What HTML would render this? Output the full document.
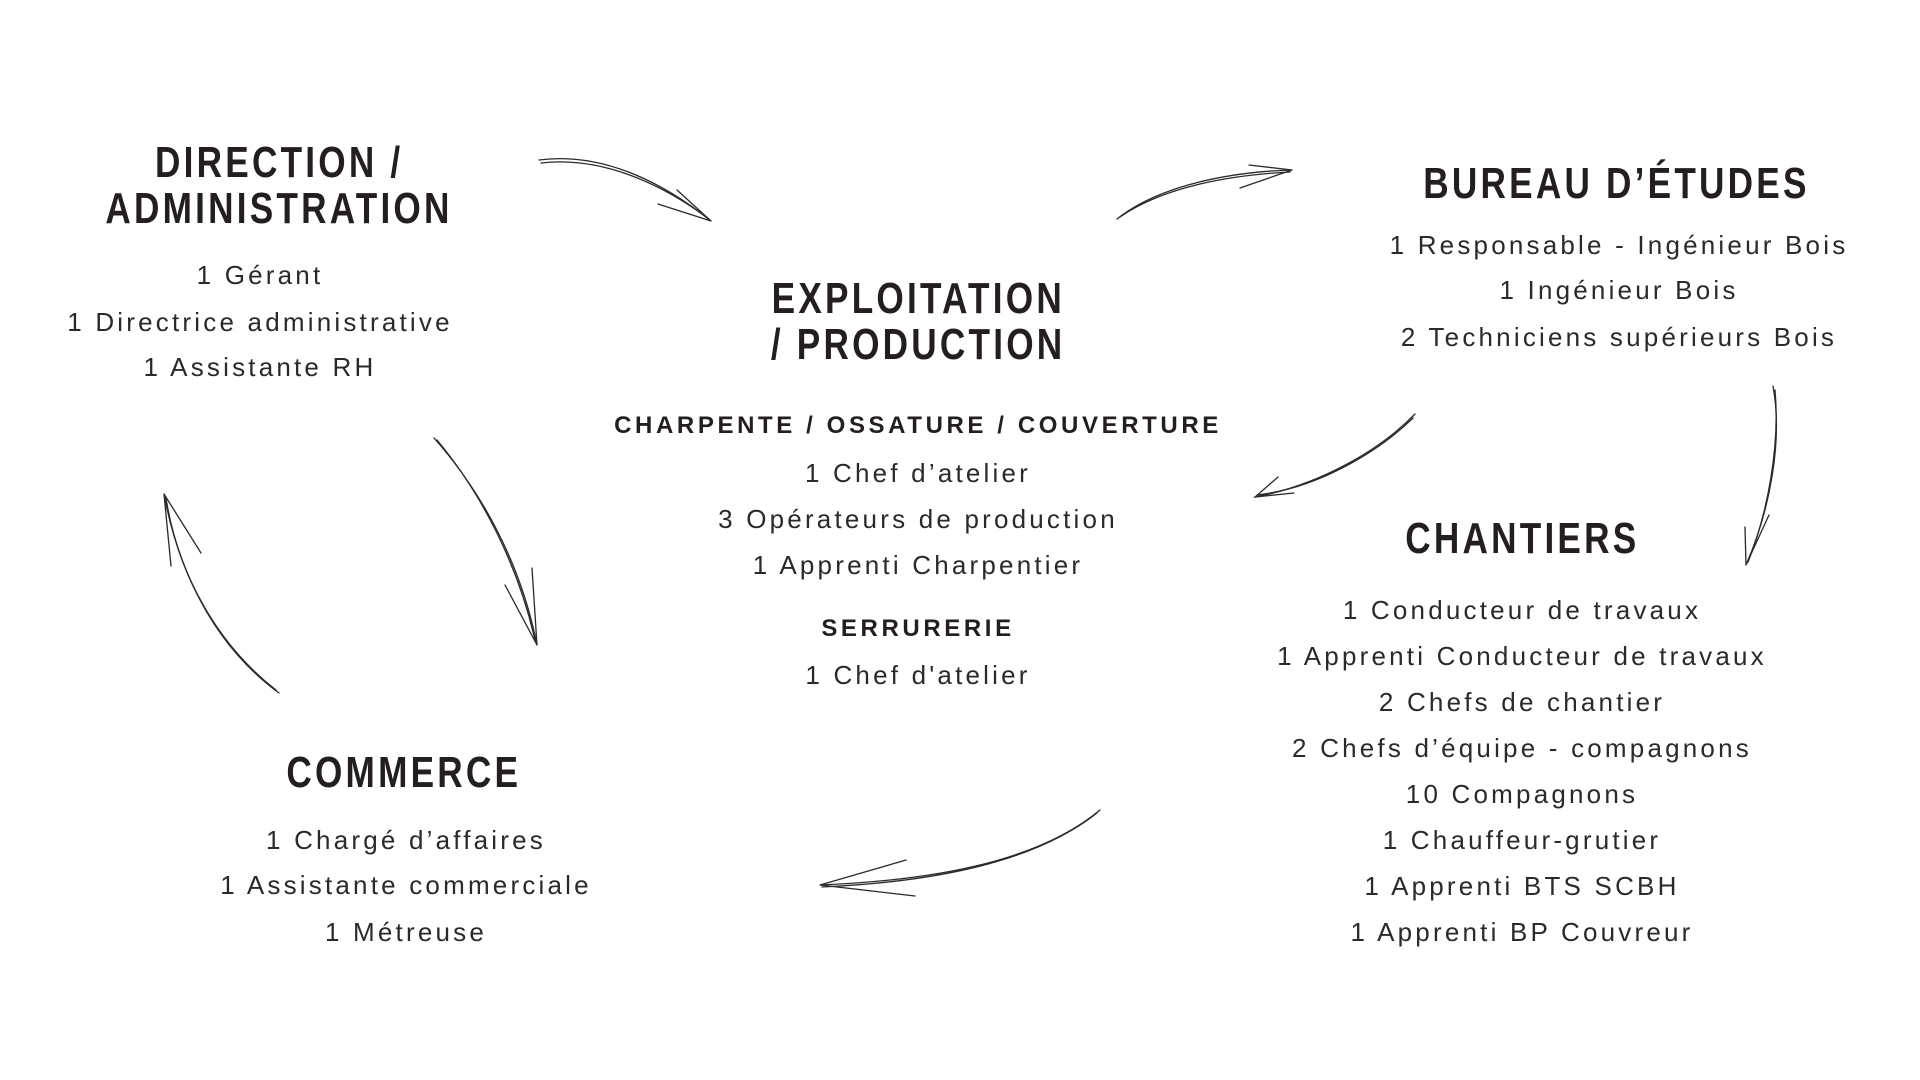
<!DOCTYPE html>
<html><head><meta charset="utf-8">
<style>
html,body{margin:0;padding:0;background:#fff;}
body{width:1920px;height:1080px;position:relative;overflow:hidden;font-family:"Liberation Sans",sans-serif;color:#231f20;}
.t{position:absolute;width:800px;text-align:center;font-weight:bold;font-size:44px;line-height:48px;letter-spacing:4px;white-space:nowrap;}
.t span{display:inline-block;transform:scaleX(0.8);transform-origin:center;}
.b{position:absolute;width:800px;text-align:center;font-size:26px;line-height:30px;letter-spacing:3.2px;white-space:nowrap;color:#2a2a2a;}
.s{position:absolute;width:800px;text-align:center;font-size:24px;line-height:30px;letter-spacing:3.6px;font-weight:bold;white-space:nowrap;color:#231f20;}
svg{position:absolute;left:0;top:0;}
</style></head><body>

<div class="t" style="left:-121px;top:139px"><span>DIRECTION /</span></div>
<div class="t" style="left:-121px;top:185px"><span>ADMINISTRATION</span></div>
<div class="b" style="left:-140px;top:260px">1 Gérant</div>
<div class="b" style="left:-140px;top:307px">1 Directrice administrative</div>
<div class="b" style="left:-140px;top:352px">1 Assistante RH</div>

<div class="t" style="left:518px;top:275px"><span>EXPLOITATION</span></div>
<div class="t" style="left:518px;top:321px"><span>/ PRODUCTION</span></div>
<div class="s" style="left:518px;top:411px">CHARPENTE / OSSATURE / COUVERTURE</div>
<div class="b" style="left:518px;top:458px">1 Chef d’atelier</div>
<div class="b" style="left:518px;top:504px">3 Opérateurs de production</div>
<div class="b" style="left:518px;top:550px">1 Apprenti Charpentier</div>
<div class="s" style="left:518px;top:614px">SERRURERIE</div>
<div class="b" style="left:518px;top:660px">1 Chef d'atelier</div>

<div class="t" style="left:1216px;top:160px"><span>BUREAU D’ÉTUDES</span></div>
<div class="b" style="left:1219px;top:230px">1 Responsable - Ingénieur Bois</div>
<div class="b" style="left:1219px;top:275px">1 Ingénieur Bois</div>
<div class="b" style="left:1219px;top:322px">2 Techniciens supérieurs Bois</div>

<div class="t" style="left:1122px;top:515px"><span>CHANTIERS</span></div>
<div class="b" style="left:1122px;top:595px">1 Conducteur de travaux</div>
<div class="b" style="left:1122px;top:641px">1 Apprenti Conducteur de travaux</div>
<div class="b" style="left:1122px;top:687px">2 Chefs de chantier</div>
<div class="b" style="left:1122px;top:733px">2 Chefs d’équipe - compagnons</div>
<div class="b" style="left:1122px;top:779px">10 Compagnons</div>
<div class="b" style="left:1122px;top:825px">1 Chauffeur-grutier</div>
<div class="b" style="left:1122px;top:871px">1 Apprenti BTS SCBH</div>
<div class="b" style="left:1122px;top:917px">1 Apprenti BP Couvreur</div>

<div class="t" style="left:4px;top:749px"><span>COMMERCE</span></div>
<div class="b" style="left:6px;top:825px">1 Chargé d’affaires</div>
<div class="b" style="left:6px;top:870px">1 Assistante commerciale</div>
<div class="b" style="left:6px;top:917px">1 Métreuse</div>

<svg width="1920" height="1080" viewBox="0 0 1920 1080" fill="none" stroke="#2a2a2a" stroke-width="1.3" stroke-linecap="round">
<path d="M539 160 C600 152 660 180 711 221"/>
<path d="M541 163 C602 156 662 184 709 219"/>
<path d="M677 190 L711 221 L658 204"/>
<path d="M1117 219 C1160 185 1230 172 1292 170"/>
<path d="M1120 217 C1165 186 1232 175 1290 172"/>
<path d="M1249 165 L1292 170 L1240 188"/>
<path d="M1415 414 C1380 450 1320 485 1255 497"/>
<path d="M1413 418 C1378 452 1318 488 1257 495"/>
<path d="M1278 477 L1255 497 L1294 493"/>
<path d="M1773 386 C1783 440 1770 510 1746 565"/>
<path d="M1775 390 C1780 445 1768 512 1748 562"/>
<path d="M1745 527 L1746 565 L1769 515"/>
<path d="M1100 810 C1040 860 940 880 820 885"/>
<path d="M1097 813 C1035 862 935 882 822 887"/>
<path d="M906 860 L820 885 L915 896"/>
<path d="M434 438 C480 490 520 560 537 645"/>
<path d="M437 440 C482 494 518 565 535 640"/>
<path d="M505 585 L537 645 L532 568"/>
<path d="M279 693 C220 650 180 580 164 494"/>
<path d="M276 690 C218 645 178 575 166 498"/>
<path d="M201 553 L164 494 L171 566"/>
</svg>
</body></html>
